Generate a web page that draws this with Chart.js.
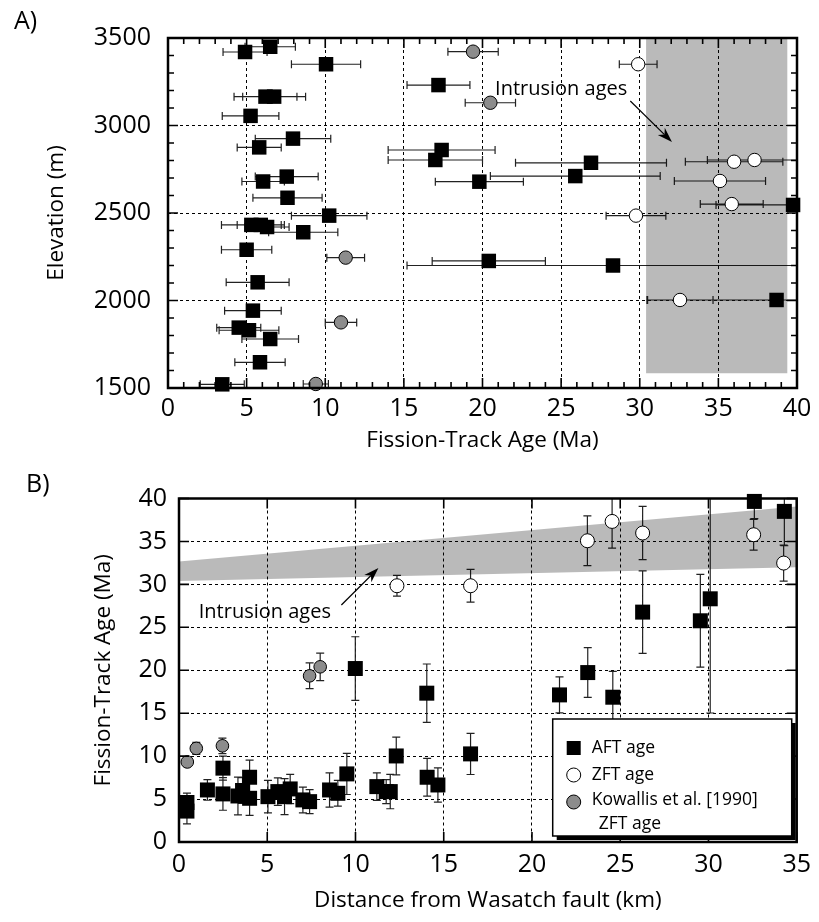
<!DOCTYPE html>
<html>
<head>
<meta charset="utf-8">
<script src="https://cdn.jsdelivr.net/npm/chart.js@4.4.1/dist/chart.umd.min.js"></script>
<style>
  html, body { margin: 0; padding: 0; background: #fff; }
  #wrap { position: relative; width: 819px; height: 922px; }
  #chartA { position: absolute; left: 0; top: 0; }
  #chartB { position: absolute; left: 0; top: 460px; }
</style>
</head>
<body>
<div id="wrap">
  <canvas id="chartA" width="819" height="460"></canvas>
  <canvas id="chartB" width="819" height="462"></canvas>
</div>
<script>
const FONT = "'Open Sans', 'Noto Sans', sans-serif";

// ---------- panel A : fission-track age (Ma) vs elevation (m)
const aAftAge  = [4.9, 6.5, 10.05, 6.2, 6.75, 5.25, 7.95, 5.8, 7.55, 6.05, 7.6, 10.25, 5.3, 5.9, 6.3, 8.6, 5.0, 5.7, 5.4, 4.5, 5.15, 6.5, 5.85, 3.45,
                  17.2, 17.4, 17.0, 26.9, 25.9, 19.8, 20.4, 28.3, 39.75, 38.7];
const aAftElev = [3420, 3450, 3350, 3165, 3165, 3055, 2925, 2875, 2708, 2680, 2587, 2485, 2432, 2432, 2420, 2390, 2290, 2104, 1942, 1845, 1830, 1780, 1647, 1521,
                  3231, 2860, 2803, 2787, 2711, 2679, 2226, 2200, 2546, 2003];
const aAftErr  = [1.4, 1.6, 2.2, 2.0, 2.0, 1.8, 2.4, 1.4, 2.0, 1.35, 2.2, 2.4, 1.9, 1.5, 1.4, 2.2, 1.6, 2.0, 1.8, 1.4, 1.9, 1.8, 1.6, 1.4,
                  2.0, 3.4, 3.0, 4.8, 5.4, 2.8, 3.6, 13.1, 4.9, 8.2];

const aZftAge  = [29.9, 36.0, 37.3, 35.1, 35.85, 29.76, 32.56];
const aZftElev = [3350, 2793, 2803, 2683, 2551, 2485, 2003];
const aZftErr  = [1.2, 3.1, 3.0, 2.9, 2.0, 1.9, 2.1];

const aKowAge  = [19.4, 20.5, 11.3, 11.0, 9.4];
const aKowElev = [3422, 3130, 2245, 1875, 1523];
const aKowErr  = [1.6, 1.6, 1.2, 1.0, 0.8];

const aIntrusionAge = [30.4, 39.4];
const aIntrusionTop = [3500, 3500];
const aIntrusionBottom = 1585;

const aAgeTicks  = [0, 5, 10, 15, 20, 25, 30, 35, 40];
const aElevTicks = [1500, 2000, 2500, 3000, 3500];

// ---------- panel B : distance from Wasatch fault (km) vs fission-track age (Ma)
const bAftDist = [0.45, 0.45, 1.61, 2.49, 2.49, 3.34, 3.6, 4.0, 4.0, 5.04, 5.6, 5.98, 6.3, 7.02, 7.4, 8.53, 9.0, 9.51, 9.99, 11.21, 11.74,
                  11.97, 12.31, 14.04, 14.06, 14.67, 16.52, 21.56, 23.16, 24.58, 26.27, 29.54, 30.1, 32.6, 34.3];
const bAftAge  = [4.6, 3.6, 6.06, 8.6, 5.6, 5.36, 6.0, 7.54, 5.09, 5.28, 5.87, 5.28, 6.18, 4.9, 4.7, 6.06, 5.67, 7.93, 20.2, 6.45, 5.87,
                  5.87, 10.02, 17.33, 7.54, 6.64, 10.26, 17.13, 19.73, 16.86, 26.77, 25.76, 28.32, 39.66, 38.5];
const bAftErr  = [1.1, 1.5, 1.2, 1.4, 1.9, 2.2, 1.5, 2.0, 2.0, 1.9, 1.6, 2.1, 1.7, 1.5, 1.4, 2.0, 1.5, 2.4, 3.7, 1.6, 1.4,
                  2.0, 2.2, 3.4, 2.2, 2.0, 2.4, 2.1, 2.9, 3.0, 4.8, 5.4, 13.3, 2.0, 4.0];

const bZftDist = [12.35, 16.52, 23.14, 24.54, 26.27, 32.56, 34.26];
const bZftAge  = [29.84, 29.84, 35.08, 37.33, 35.98, 35.78, 32.48];
const bZftErr  = [1.2, 1.9, 2.9, 3.1, 3.1, 1.8, 2.1];

const bKowDist = [0.47, 0.98, 2.46, 7.4, 8.0];
const bKowAge  = [9.32, 10.9, 11.2, 19.35, 20.4];
const bKowErr  = [0.4, 0.7, 0.9, 1.5, 1.6];

const bBandDist   = [0, 35];
const bBandTop    = [32.67, 39.08];
const bBandBottom = [30.4, 32.0];

const bDistTicks = [0, 5, 10, 15, 20, 25, 30, 35];
const bAgeTicks  = [0, 5, 10, 15, 20, 25, 30, 35, 40];

const bLegendLabels = ['AFT age', 'ZFT age', 'Kowallis et al. [1990]', 'ZFT age'];

// ---------- helpers
const pts = (xs, ys) => xs.map((x, i) => ({ x: x, y: ys[i] }));
const tickFont = { family: FONT, size: 25 };
const titleFont = { family: FONT, size: 22.5 };

function arrow(ctx, x1, y1, x2, y2) {
    const ang = Math.atan2(y2 - y1, x2 - x1);
    const L = 15, W = 5;
    const c = Math.cos(ang), s = Math.sin(ang);
    ctx.beginPath();
    ctx.moveTo(x1, y1);
    ctx.lineTo(x2 - L * 0.7 * c, y2 - L * 0.7 * s);
    ctx.stroke();
    ctx.beginPath();
    ctx.moveTo(x2, y2);
    ctx.lineTo(x2 - L * c + W * s, y2 - L * s - W * c);
    ctx.lineTo(x2 - L * 0.7 * c, y2 - L * 0.7 * s);
    ctx.lineTo(x2 - L * c - W * s, y2 - L * s + W * c);
    ctx.closePath();
    ctx.fill();
}

function makeErrorBars(sets, horizontal) {
    return {
        id: 'errorBars',
        beforeDatasetsDraw(chart) {
            const { ctx, chartArea: a, scales: { x, y } } = chart;
            ctx.save();
            ctx.beginPath();
            ctx.rect(a.left, a.top, a.right - a.left, a.bottom - a.top);
            ctx.clip();
            ctx.strokeStyle = '#222';
            ctx.lineWidth = 1.2;
            ctx.beginPath();
            sets.forEach(set => {
                set.xs.forEach((xv, i) => {
                    const yv = set.ys[i], e = set.errs[i];
                    if (horizontal) {
                        const py = y.getPixelForValue(yv);
                        const p1 = x.getPixelForValue(xv - e), p2 = x.getPixelForValue(xv + e);
                        ctx.moveTo(p1, py); ctx.lineTo(p2, py);
                        ctx.moveTo(p1, py - 4); ctx.lineTo(p1, py + 4);
                        ctx.moveTo(p2, py - 4); ctx.lineTo(p2, py + 4);
                    } else {
                        const px = x.getPixelForValue(xv);
                        const p1 = y.getPixelForValue(yv - e), p2 = y.getPixelForValue(yv + e);
                        ctx.moveTo(px, p1); ctx.lineTo(px, p2);
                        ctx.moveTo(px - 4, p1); ctx.lineTo(px + 4, p1);
                        ctx.moveTo(px - 4, p2); ctx.lineTo(px + 4, p2);
                    }
                });
            });
            ctx.stroke();
            ctx.restore();
        }
    };
}

function makeFrame(xMinor, xMajor, yMinor, yMajor) {
    return {
        id: 'frame',
        afterDatasetsDraw(chart) {
            const { ctx, chartArea: a, scales: { x, y } } = chart;
            const isMajor = (v, m) => Math.abs(v / m - Math.round(v / m)) < 1e-6;
            ctx.save();
            ctx.strokeStyle = '#000';
            ctx.lineWidth = 1.6;
            ctx.beginPath();
            for (let v = x.min; v <= x.max + 1e-9; v += xMinor) {
                const p = x.getPixelForValue(v);
                const len = isMajor(v, xMajor) ? 10 : 6;
                ctx.moveTo(p, a.bottom); ctx.lineTo(p, a.bottom - len);
                ctx.moveTo(p, a.top); ctx.lineTo(p, a.top + len);
            }
            for (let v = y.min; v <= y.max + 1e-9; v += yMinor) {
                const p = y.getPixelForValue(v);
                const len = isMajor(v, yMajor) ? 10 : 6;
                ctx.moveTo(a.left, p); ctx.lineTo(a.left + len, p);
                ctx.moveTo(a.right, p); ctx.lineTo(a.right - len, p);
            }
            ctx.stroke();
            ctx.lineWidth = 2.5;
            ctx.strokeRect(a.left, a.top, a.right - a.left, a.bottom - a.top);
            ctx.restore();
        }
    };
}

function axis(min, max, ticksArr, tickPad, title, titlePad, fit) {
    return {
        type: 'linear', min: min, max: max,
        afterBuildTicks: s => { s.ticks = ticksArr.map(v => ({ value: v })); },
        ticks: { padding: tickPad, color: '#000', font: tickFont, autoSkip: false, maxRotation: 0,
                 callback: v => String(v) },
        grid: { color: '#000', lineWidth: 1, drawTicks: false },
        border: { display: false, dash: [3, 3] },
        title: { display: true, text: title, color: '#000', font: titleFont, padding: titlePad },
        afterFit: fit
    };
}

// ---------- panel A
const annotA = {
    id: 'annotA',
    afterDraw(chart) {
        const { ctx, scales: { x, y } } = chart;
        ctx.save();
        ctx.fillStyle = '#000'; ctx.strokeStyle = '#000'; ctx.lineWidth = 1.2;
        ctx.font = '25px ' + FONT;
        ctx.textBaseline = 'middle'; ctx.textAlign = 'left';
        ctx.fillText('A)', 14, 22);
        ctx.font = '20px ' + FONT;
        ctx.fillText('Intrusion ages', x.getPixelForValue(20.8), y.getPixelForValue(3208));
        arrow(ctx, x.getPixelForValue(29.4), y.getPixelForValue(3140), x.getPixelForValue(32.05), y.getPixelForValue(2906));
        ctx.restore();
    }
};

new Chart(document.getElementById('chartA'), {
    type: 'line',
    data: {
        datasets: [
            { label: 'AFT age', data: pts(aAftAge, aAftElev), showLine: false, pointStyle: 'rect', pointRadius: 10.25,
              backgroundColor: '#000', borderColor: '#000', borderWidth: 0, clip: false },
            { label: 'ZFT age', data: pts(aZftAge, aZftElev), showLine: false, pointStyle: 'circle', pointRadius: 6.7,
              backgroundColor: '#fff', borderColor: '#000', borderWidth: 1, clip: false },
            { label: 'Kowallis', data: pts(aKowAge, aKowElev), showLine: false, pointStyle: 'circle', pointRadius: 6.7,
              backgroundColor: '#8c8c8c', borderColor: '#000', borderWidth: 1, clip: false },
            { label: 'Intrusion ages', data: pts(aIntrusionAge, aIntrusionTop), showLine: true, pointRadius: 0,
              borderColor: 'rgba(0,0,0,0)', borderWidth: 0, backgroundColor: 'rgba(0,0,0,0.27)', fill: { value: aIntrusionBottom } }
        ]
    },
    options: {
        responsive: false, animation: false, events: [],
        layout: { padding: { left: 0, top: 38, right: 22, bottom: 0 } },
        plugins: { legend: { display: false }, tooltip: { enabled: false } },
        scales: {
            x: axis(0, 40, aAgeTicks, 6, 'Fission-Track Age (Ma)', { bottom: 6 }, s => { s.height = 72; }),
            y: axis(1500, 3500, aElevTicks, 17, 'Elevation (m)', { top: 43 }, s => { s.width = 168; })
        }
    },
    plugins: [
        makeErrorBars([
            { xs: aAftAge, ys: aAftElev, errs: aAftErr },
            { xs: aZftAge, ys: aZftElev, errs: aZftErr },
            { xs: aKowAge, ys: aKowElev, errs: aKowErr }
        ], true),
        makeFrame(1, 5, 100, 500),
        annotA
    ]
});

// ---------- panel B
const annotB = {
    id: 'annotB',
    afterDraw(chart) {
        const { ctx, chartArea: a, scales: { x, y } } = chart;
        ctx.save();
        ctx.fillStyle = '#000'; ctx.strokeStyle = '#000'; ctx.lineWidth = 1.2;
        ctx.font = '25px ' + FONT;
        ctx.textBaseline = 'middle'; ctx.textAlign = 'left';
        ctx.fillText('B)', 26, 25);
        ctx.font = '20px ' + FONT;
        ctx.fillText('Intrusion ages', x.getPixelForValue(1.12), y.getPixelForValue(26.7));
        arrow(ctx, x.getPixelForValue(9.2), y.getPixelForValue(27.6), x.getPixelForValue(11.3), y.getPixelForValue(31.9));

        // legend box with drop shadow
        const w = 239, h = 117;
        const left = a.right - 244, top = a.bottom - 123;
        ctx.fillRect(left + 4, top + 4, w, h);
        ctx.fillStyle = '#fff';
        ctx.fillRect(left, top, w, h);
        ctx.lineWidth = 1.5;
        ctx.strokeRect(left, top, w, h);
        ctx.fillStyle = '#000';
        ctx.fillRect(left + 14, top + 22, 14, 14);
        ctx.lineWidth = 1;
        ctx.beginPath(); ctx.arc(left + 21, top + 56, 7, 0, Math.PI * 2);
        ctx.fillStyle = '#fff'; ctx.fill(); ctx.stroke();
        ctx.beginPath(); ctx.arc(left + 21, top + 83, 7, 0, Math.PI * 2);
        ctx.fillStyle = '#8c8c8c'; ctx.fill(); ctx.stroke();
        ctx.fillStyle = '#000';
        ctx.font = '17.5px ' + FONT;
        ctx.fillText(bLegendLabels[0], left + 39, top + 29);
        ctx.fillText(bLegendLabels[1], left + 39, top + 56);
        ctx.fillText(bLegendLabels[2], left + 39, top + 81);
        ctx.fillText(bLegendLabels[3], left + 46, top + 105);
        ctx.restore();
    }
};

new Chart(document.getElementById('chartB'), {
    type: 'line',
    data: {
        datasets: [
            { label: 'AFT age', data: pts(bAftDist, bAftAge), showLine: false, pointStyle: 'rect', pointRadius: 10.6,
              backgroundColor: '#000', borderColor: '#000', borderWidth: 0, clip: false },
            { label: 'ZFT age', data: pts(bZftDist, bZftAge), showLine: false, pointStyle: 'circle', pointRadius: 7,
              backgroundColor: '#fff', borderColor: '#000', borderWidth: 1, clip: false },
            { label: 'Kowallis', data: pts(bKowDist, bKowAge), showLine: false, pointStyle: 'circle', pointRadius: 6.3,
              backgroundColor: '#8c8c8c', borderColor: '#000', borderWidth: 1, clip: false },
            { label: 'band top', data: pts(bBandDist, bBandTop), showLine: true, pointRadius: 0,
              borderColor: 'rgba(0,0,0,0)', borderWidth: 0, backgroundColor: 'rgba(0,0,0,0.27)', fill: '+1' },
            { label: 'band bottom', data: pts(bBandDist, bBandBottom), showLine: true, pointRadius: 0,
              borderColor: 'rgba(0,0,0,0)', borderWidth: 0, fill: false }
        ]
    },
    options: {
        responsive: false, animation: false, events: [],
        layout: { padding: { left: 0, top: 38.5, right: 22, bottom: 0 } },
        plugins: { legend: { display: false }, tooltip: { enabled: false } },
        scales: {
            x: axis(0, 35, bDistTicks, 8, 'Distance from Wasatch fault (km)', { bottom: 8 }, s => { s.height = 80; }),
            y: axis(0, 40, bAgeTicks, 12, 'Fission-Track Age (Ma)', { top: 90 }, s => { s.width = 179; })
        }
    },
    plugins: [
        makeErrorBars([
            { xs: bAftDist, ys: bAftAge, errs: bAftErr },
            { xs: bZftDist, ys: bZftAge, errs: bZftErr },
            { xs: bKowDist, ys: bKowAge, errs: bKowErr }
        ], false),
        makeFrame(5, 5, 5, 5),
        annotB
    ]
});
</script>
</body>
</html>
